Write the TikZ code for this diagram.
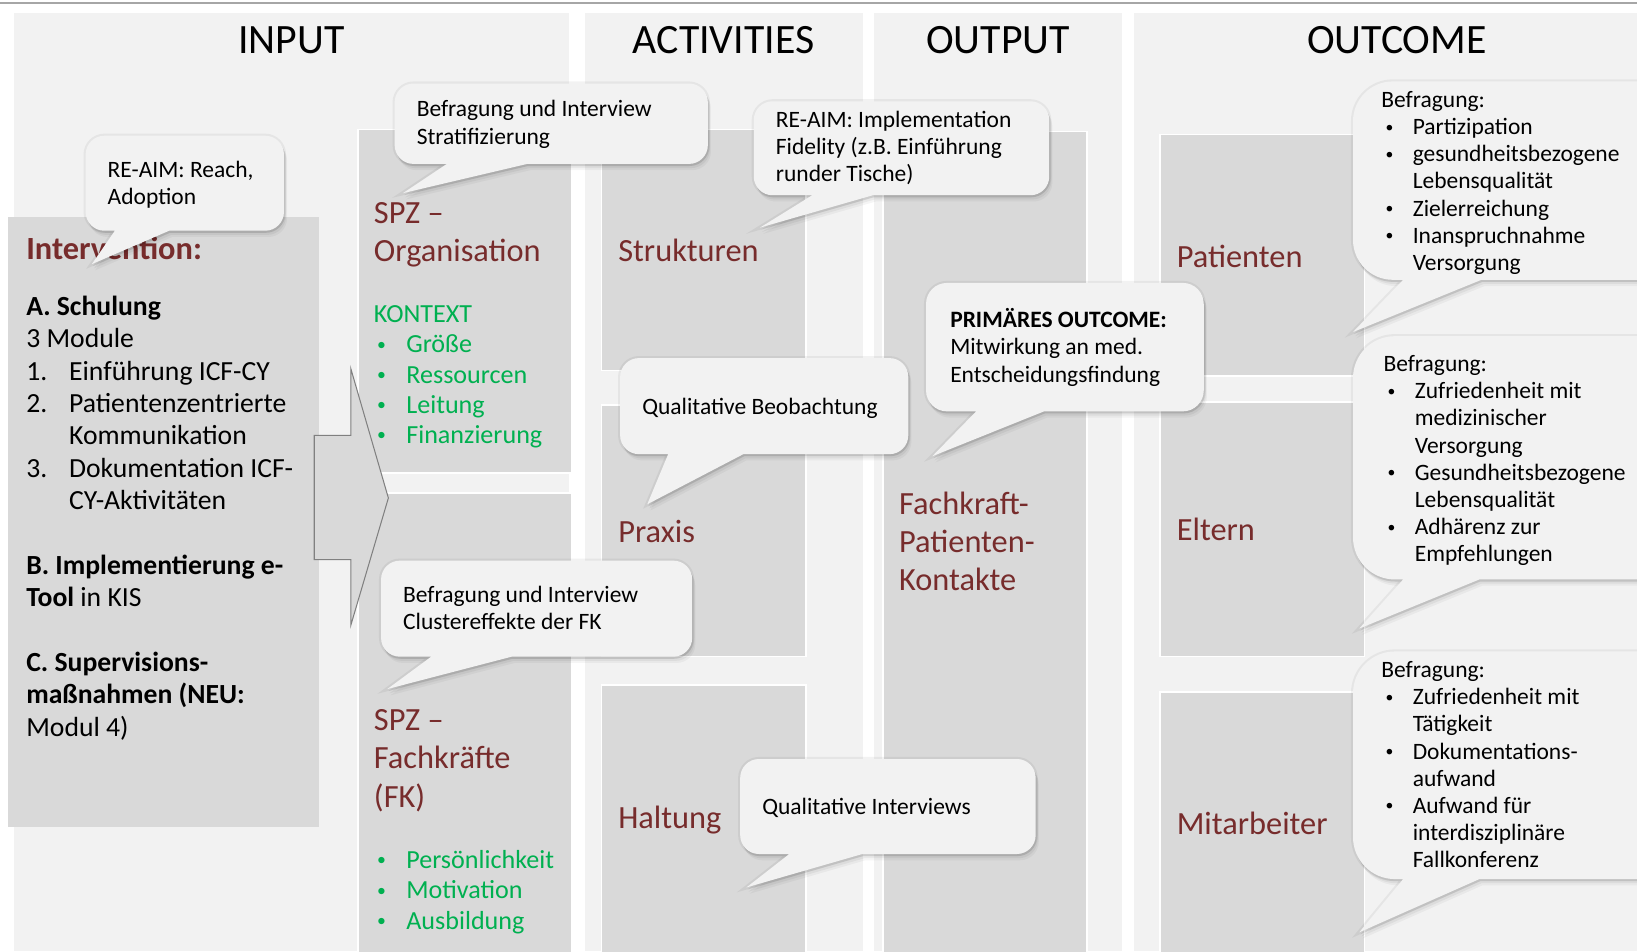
\documentclass[tikz,border=0pt]{standalone}
\usepackage{fontspec}
\setmainfont{Carlito}
\definecolor{colbg}{HTML}{F2F2F2}
\definecolor{boxbg}{HTML}{D9D9D9}
\definecolor{callbg}{HTML}{F2F2F2}
\definecolor{dred}{HTML}{772C2C}
\definecolor{kgreen}{HTML}{00B050}
\definecolor{topline}{HTML}{A6A6A6}
\definecolor{arrowline}{HTML}{808080}
\newcommand\fs[2]{\fontsize{#1pt}{#2pt}\selectfont}
\newcommand\inum[1]{\makebox[41pt][l]{#1}}
\newcommand\gb{\makebox[31pt][l]{\hspace{3pt}\raisebox{2.6pt}{\fontsize{17pt}{17pt}\selectfont •}}}
\newcommand\cb{\makebox[30pt][l]{\hspace{4pt}\raisebox{2.4pt}{\fontsize{15pt}{15pt}\selectfont •}}}
\newcommand\ci{\makebox[30pt][l]{}}
\newcommand\callout[9]{%
  \def\cpath{(#6,#4) -- (#8,#9) -- (#7,#4) -- ({#3-#5},#4) arc[start angle=90,end angle=0,radius=#5] -- (#3,{#2+#5}) arc[start angle=0,end angle=-90,radius=#5] -- ({#1+#5},#2) arc[start angle=-90,end angle=-180,radius=#5] -- (#1,{#4-#5}) arc[start angle=180,end angle=90,radius=#5] -- cycle}%
  \draw[black,opacity=0.05,line width=4pt] \cpath;
  \foreach \sd/\so in {6/0.04,4/0.05,2/0.07}{\fill[black,opacity=\so,shift={(0.5*\sd,\sd)}] \cpath;}
  \fill[callbg] \cpath;
}
\begin{document}
\begin{tikzpicture}[x=1pt,y=-1pt,
  greybox/.style={fill=boxbg, draw=white, line width=1.5pt},
  header/.style={font={\fs{40}{48}}, anchor=base, inner sep=0pt},
  redlabel/.style={font={\fs{31}{36.5}}, text=dred, anchor=base west, inner sep=0pt},
  greentext/.style={font={\fs{25}{29}}, text=kgreen, anchor=base west, inner sep=0pt},
  bodytext/.style={font={\fs{26.5}{31}}, anchor=base west, inner sep=0pt},
  calltext/.style={font={\fs{22.5}{26}}, anchor=base west, inner sep=0pt},
]
\useasboundingbox (0,0) rectangle (1568,911);
\fill[white] (0,0) rectangle (1568,911);
% top line
\draw[topline, line width=1.5pt] (0,3) -- (1568,3);
% columns
\fill[colbg] (13,12) rectangle (545,911);
\fill[colbg] (560,12) rectangle (827,911);
\fill[colbg] (837,12) rectangle (1075,911);
\fill[colbg] (1086,12) rectangle (1568,911);
% boxes
\fill[boxbg] (8,208) rectangle (306,792);
\draw[greybox] (343,124) rectangle (548,453);
\draw[greybox] (343,472) rectangle (548,915);
\draw[greybox] (576,124) rectangle (772,355);
\draw[greybox] (576,388) rectangle (772,629);
\draw[greybox] (576,656) rectangle (772,915);
\draw[greybox] (846,126) rectangle (1041,915);
\draw[greybox] (1111,129) rectangle (1307,360);
\draw[greybox] (1111,385) rectangle (1307,629);
\draw[greybox] (1111,663) rectangle (1307,915);
% block arrow
\draw[fill=boxbg, draw=arrowline, line width=1pt] (301,417) -- (336,417) -- (336,353) -- (372,477) -- (336,599) -- (336,536) -- (301,536) -- cycle;
% headers
\node[header] (hinput) at (279,51) {INPUT};
\node[header] (hact) at (693,51) {ACTIVITIES};
\node[header] (hout) at (956,51) {OUTPUT};
\node[header] (houtc) at (1338,51) {OUTCOME};
% intervention
\node[redlabel, font={\fs{31}{36}\bfseries}] (interv) at (25,249) {Intervention:};
\node[bodytext] (itext) at (25,302) {\begin{tabular}[t]{@{}l@{}}
\textbf{A. Schulung}\\
3 Module\\
\inum{1.}Einführung ICF-CY\\
\inum{2.}Patientenzentrierte\\
\inum{}Kommunikation\\
\inum{3.}Dokumentation ICF-\\
\inum{}CY-Aktivitäten\\
~\\
\textbf{B. Implementierung e-}\\
\textbf{Tool} in KIS\\
~\\
\textbf{C. Supervisions-}\\
\textbf{maßnahmen (NEU:}\\
Modul 4)
\end{tabular}};
% SPZ organisation
\node[redlabel] (spzorg) at (358,214) {\begin{tabular}[t]{@{}l@{}}SPZ –\\Organisation\end{tabular}};
\node[greentext] (kontext) at (358,309) {\begin{tabular}[t]{@{}l@{}}KONTEXT\\\gb Größe\\\gb Ressourcen\\\gb Leitung\\\gb Finanzierung\end{tabular}};
% SPZ Fachkraefte
\node[redlabel] (spzfk) at (358,700) {\begin{tabular}[t]{@{}l@{}}SPZ –\\Fachkräfte\\(FK)\end{tabular}};
\node[greentext] (fkitems) at (358,832) {\begin{tabular}[t]{@{}l@{}}\gb Persönlichkeit\\\gb Motivation\\\gb Ausbildung\end{tabular}};
% activities
\node[redlabel] (strukt) at (592,250) {Strukturen};
\node[redlabel] (praxis) at (592,520) {Praxis};
\node[redlabel] (haltung) at (592,794) {Haltung};
% output
\node[redlabel] (kontakte) at (861,493) {\begin{tabular}[t]{@{}l@{}}Fachkraft-\\Patienten-\\Kontakte\end{tabular}};
% outcome
\node[redlabel] (patienten) at (1127,256) {Patienten};
\node[redlabel] (eltern) at (1127,518) {Eltern};
\node[redlabel] (mitarb) at (1127,799) {Mitarbeiter};
% callouts
\callout{82}{130}{272}{221}{18}{110}{162}{88}{253}
\callout{378}{80}{678}{157}{18}{428}{505}{386}{185}
\callout{722}{97}{1005}{187}{18}{778}{836}{728}{218}
\callout{594}{343}{870}{435}{18}{640}{712}{620}{483}
\callout{887}{271}{1153}{394}{20}{935}{1000}{893}{437}
\callout{365}{537}{663}{629}{18}{413}{490}{371}{660}
\callout{709}{727}{992}{818}{18}{756}{826}{715}{850}
\callout{1296}{78}{1620}{268}{38}{1344}{1419}{1296}{318}
\callout{1296}{322}{1620}{555}{40}{1344}{1417}{1302}{602}
\callout{1296}{624}{1620}{842}{40}{1344}{1417}{1302}{893}
% callout texts
\node[calltext] (c1) at (103,170) {\begin{tabular}[t]{@{}l@{}}RE-AIM: Reach,\\Adoption\end{tabular}};
\node[calltext] (c2) at (399,112) {\begin{tabular}[t]{@{}l@{}}Befragung und Interview\\Stratifizierung\end{tabular}};
\node[calltext] (c3) at (743,122) {\begin{tabular}[t]{@{}l@{}}RE-AIM: Implementation\\Fidelity (z.B. Einführung\\runder Tische)\end{tabular}};
\node[calltext] (c4) at (615,397) {Qualitative Beobachtung};
\node[calltext] (c5) at (910,314) {\begin{tabular}[t]{@{}l@{}}\textbf{PRIMÄRES OUTCOME:}\\Mitwirkung an med.\\Entscheidungsfindung\end{tabular}};
\node[calltext] (c6) at (386,577) {\begin{tabular}[t]{@{}l@{}}Befragung und Interview\\Clustereffekte der FK\end{tabular}};
\node[calltext] (c7) at (730,780) {Qualitative Interviews};
\node[calltext] (c8) at (1323,103) {\begin{tabular}[t]{@{}l@{}}Befragung:\\\cb Partizipation\\\cb gesundheitsbezogene\\\ci Lebensqualität\\\cb Zielerreichung\\\cb Inanspruchnahme\\\ci Versorgung\end{tabular}};
\node[calltext] (c9) at (1325,356) {\begin{tabular}[t]{@{}l@{}}Befragung:\\\cb Zufriedenheit mit\\\ci medizinischer\\\ci Versorgung\\\cb Gesundheitsbezogene\\\ci Lebensqualität\\\cb Adhärenz zur\\\ci Empfehlungen\end{tabular}};
\node[calltext] (c10) at (1323,649) {\begin{tabular}[t]{@{}l@{}}Befragung:\\\cb Zufriedenheit mit\\\ci Tätigkeit\\\cb Dokumentations-\\\ci aufwand\\\cb Aufwand für\\\ci interdisziplinäre\\\ci Fallkonferenz\end{tabular}};
\end{tikzpicture}
\end{document}
